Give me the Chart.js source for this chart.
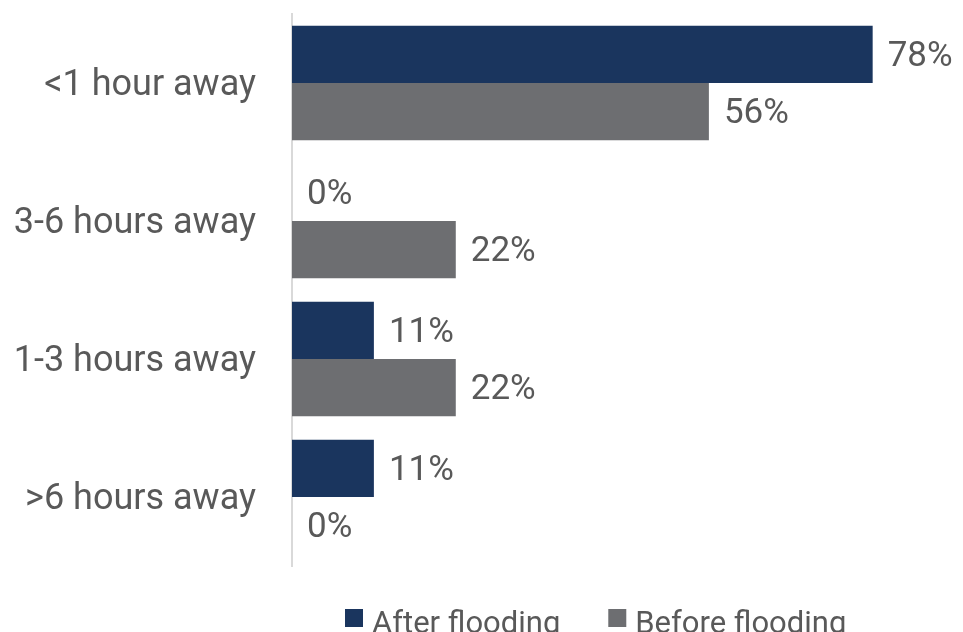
<!DOCTYPE html>
<html>
<head>
<meta charset="utf-8">
<script src="https://cdn.jsdelivr.net/npm/chart.js@4"></script>
<style>
  html, body { margin: 0; padding: 0; background: #fff; }
  #wrap { width: 963px; height: 632px; }
</style>
</head>
<body>
<div id="wrap"><canvas id="myChart"></canvas></div>
<script>
const categories = ['<1 hour away', '3-6 hours away', '1-3 hours away', '>6 hours away'];
const afterFlooding = [78, 0, 11, 11];
const beforeFlooding = [56, 22, 22, 0];

const textColor = '#595959';
const fontSize = 35;
Chart.defaults.color = textColor;
Chart.defaults.font.family = 'Roboto';

// value labels at the end of each bar
const valueLabels = {
    id: 'valueLabels',
    afterDatasetsDraw(chart) {
        const ctx = chart.ctx;
        ctx.save();
        ctx.font = fontSize + 'px Roboto';
        ctx.fillStyle = textColor;
        ctx.textBaseline = 'middle';
        ctx.textAlign = 'left';
        chart.data.datasets.forEach((ds, i) => {
            chart.getDatasetMeta(i).data.forEach((bar, j) => {
                ctx.fillText(ds.data[j] + '%', bar.x + 15, bar.y + 3);
            });
        });
        ctx.restore();
    }
};

// legend along the bottom edge, partly cut off like the original
const bottomLegend = {
    id: 'bottomLegend',
    afterDraw(chart) {
        const ctx = chart.ctx;
        ctx.save();
        ctx.font = '31px Roboto';
        ctx.textBaseline = 'alphabetic';
        ctx.textAlign = 'left';
        let x = 345;
        chart.data.datasets.forEach(ds => {
            ctx.fillStyle = ds.backgroundColor;
            ctx.fillRect(x, 609, 18, 18);
            ctx.fillStyle = textColor;
            ctx.fillText(ds.label, x + 27, 633);
            x += 27 + ctx.measureText(ds.label).width + 48;
        });
        ctx.restore();
    }
};

new Chart(document.getElementById('myChart'), {
    type: 'bar',
    data: {
        labels: categories,
        datasets: [{
            label: 'After flooding',
            data: afterFlooding,
            backgroundColor: '#1a355e',
            barPercentage: 1,
            categoryPercentage: 0.83
        }, {
            label: 'Before flooding',
            data: beforeFlooding,
            backgroundColor: '#6d6e71',
            barPercentage: 1,
            categoryPercentage: 0.83
        }]
    },
    options: {
        indexAxis: 'y',
        responsive: true,
        maintainAspectRatio: false,
        animation: false,
        layout: {
            padding: { top: 14, right: 1, bottom: 66, left: 0 }
        },
        plugins: {
            legend: { display: false },
            tooltip: { enabled: false }
        },
        scales: {
            x: {
                display: false,
                min: 0,
                max: 90
            },
            y: {
                grid: { display: false },
                border: { display: true, color: '#d9d9d9', width: 2 },
                ticks: {
                    font: { size: 36 },
                    color: textColor,
                    padding: 28,
                    labelOffset: 3
                },
                afterFit(scale) {
                    scale.width = 292;
                    scale.paddingTop = 0;
                    scale.paddingBottom = 0;
                }
            }
        }
    },
    plugins: [valueLabels, bottomLegend]
});
</script>
</body>
</html>
